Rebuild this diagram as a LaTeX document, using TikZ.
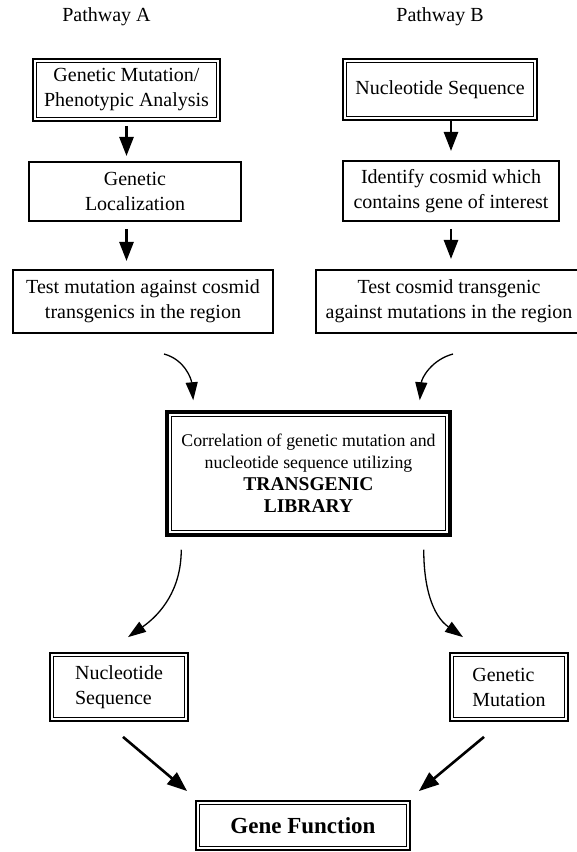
\documentclass[tikz,border=0pt]{standalone}
\usepackage{fontspec}
\setmainfont{Liberation Serif}
\usetikzlibrary{arrows.meta}

\tikzset{
  plabel/.style={font=\fontsize{20}{24}\selectfont},
  sbox/.style={draw, line width=2pt, align=center, inner sep=0pt, font=\fontsize{20}{25}\selectfont},
  dbox/.style={sbox, line width=1.8pt, append after command={\pgfextra{\draw[line width=0.7pt] ([shift={(4.4pt,-4.4pt)}]\tikzlastnode.north west) rectangle ([shift={(-4.4pt,4.4pt)}]\tikzlastnode.south east);}}},
  bigbox/.style={sbox, line width=3.5pt, font=\fontsize{17.8}{22}\selectfont, append after command={\pgfextra{\draw[line width=0.7pt] ([shift={(6pt,-6pt)}]\tikzlastnode.north west) rectangle ([shift={(-6pt,6pt)}]\tikzlastnode.south east);}}},
  stemarrow/.style={-{Triangle[length=19pt,width=14pt]}, line width=2.6pt},
  bendarrow/.style={-{Triangle[length=18pt,width=12pt]}, line width=1.3pt},
  diagarrow/.style={-{Triangle[length=20pt,width=15pt]}, line width=2.6pt}
}

\begin{document}
\begin{tikzpicture}[x=1pt, y=1pt]
  \clip (0,0) rectangle (577,852);
  % titles
  \node[plabel] (titleA) at (106.5,835) {Pathway A};
  \node[plabel] (titleB) at (440,835) {Pathway B};
  % pathway A
  \node[dbox, minimum width=187pt, minimum height=62pt] (mutA) at (126.5,762) {Genetic Mutation/\\Phenotypic Analysis};
  \node[sbox, minimum width=212pt, minimum height=59pt] (locA) at (135,660.5) {Genetic\\Localization};
  \node[sbox, minimum width=260pt, minimum height=63pt] (testA) at (143,550.5) {Test mutation against cosmid\\transgenics in the region};
  % pathway B
  \node[dbox, minimum width=194pt, minimum height=61pt] (seqB) at (440,762.5) {Nucleotide Sequence};
  \node[sbox, minimum width=216pt, minimum height=60pt] (cosB) at (451,661) {Identify cosmid which\\contains gene of interest};
  \node[sbox, minimum width=266pt, minimum height=63pt] (testB) at (449,550.5) {Test cosmid transgenic\\against mutations in the region};
  % library
  \node[bigbox, minimum width=283pt, minimum height=123pt] (corr) at (308.5,378.5) {Correlation of genetic mutation and\\nucleotide sequence utilizing\\{\fontsize{19.5}{22}\selectfont\bfseries TRANSGENIC}\\{\fontsize{19.5}{22}\selectfont\bfseries LIBRARY}};
  \node[dbox, align=left, minimum width=138pt, minimum height=68pt] (seqA2) at (119,165) {Nucleotide\\Sequence};
  \node[dbox, align=left, minimum width=118pt, minimum height=68pt] (mutB2) at (509,165) {Genetic\\Mutation};
  \node[dbox, minimum width=214pt, minimum height=49pt, font=\fontsize{23}{28}\selectfont\bfseries] (func) at (303,26.5) {Gene Function};

  \draw[stemarrow] ([yshift=-4pt]mutA.south) -- ([yshift=5pt]mutA.south |- locA.north);
  \draw[stemarrow] ([yshift=-7pt]locA.south -| mutA.south) -- ([yshift=8pt]testA.north -| mutA.south);
  \draw[stemarrow] (cosB.north |- seqB.south) -- ([yshift=9pt]cosB.north);
  \draw[stemarrow] ([yshift=-7pt]cosB.south) -- ([yshift=10pt]testB.north -| cosB.south);

  \draw[bendarrow] ([xshift=21pt,yshift=-20pt]testA.south) to[out=-15,in=95] ([xshift=28pt,yshift=10pt]corr.north west);
  \draw[bendarrow] ([xshift=4pt,yshift=-20pt]testB.south) to[out=195,in=85] ([xshift=-32pt,yshift=10pt]corr.north east);
  \draw[bendarrow] ([xshift=16pt,yshift=-13pt]corr.south west) to[out=-90,in=35] ([xshift=9pt,yshift=15pt]seqA2.north);
  \draw[bendarrow] ([xshift=-28pt,yshift=-13pt]corr.south east) to[out=-90,in=145] ([xshift=-46pt,yshift=15pt]mutB2.north);

  \draw[diagarrow] ([xshift=4pt,yshift=-15pt]seqA2.south) -- ([xshift=-8pt,yshift=9pt]func.north west);
  \draw[diagarrow] ([xshift=-25pt,yshift=-15pt]mutB2.south) -- ([xshift=8pt,yshift=9pt]func.north east);
\end{tikzpicture}
\end{document}
